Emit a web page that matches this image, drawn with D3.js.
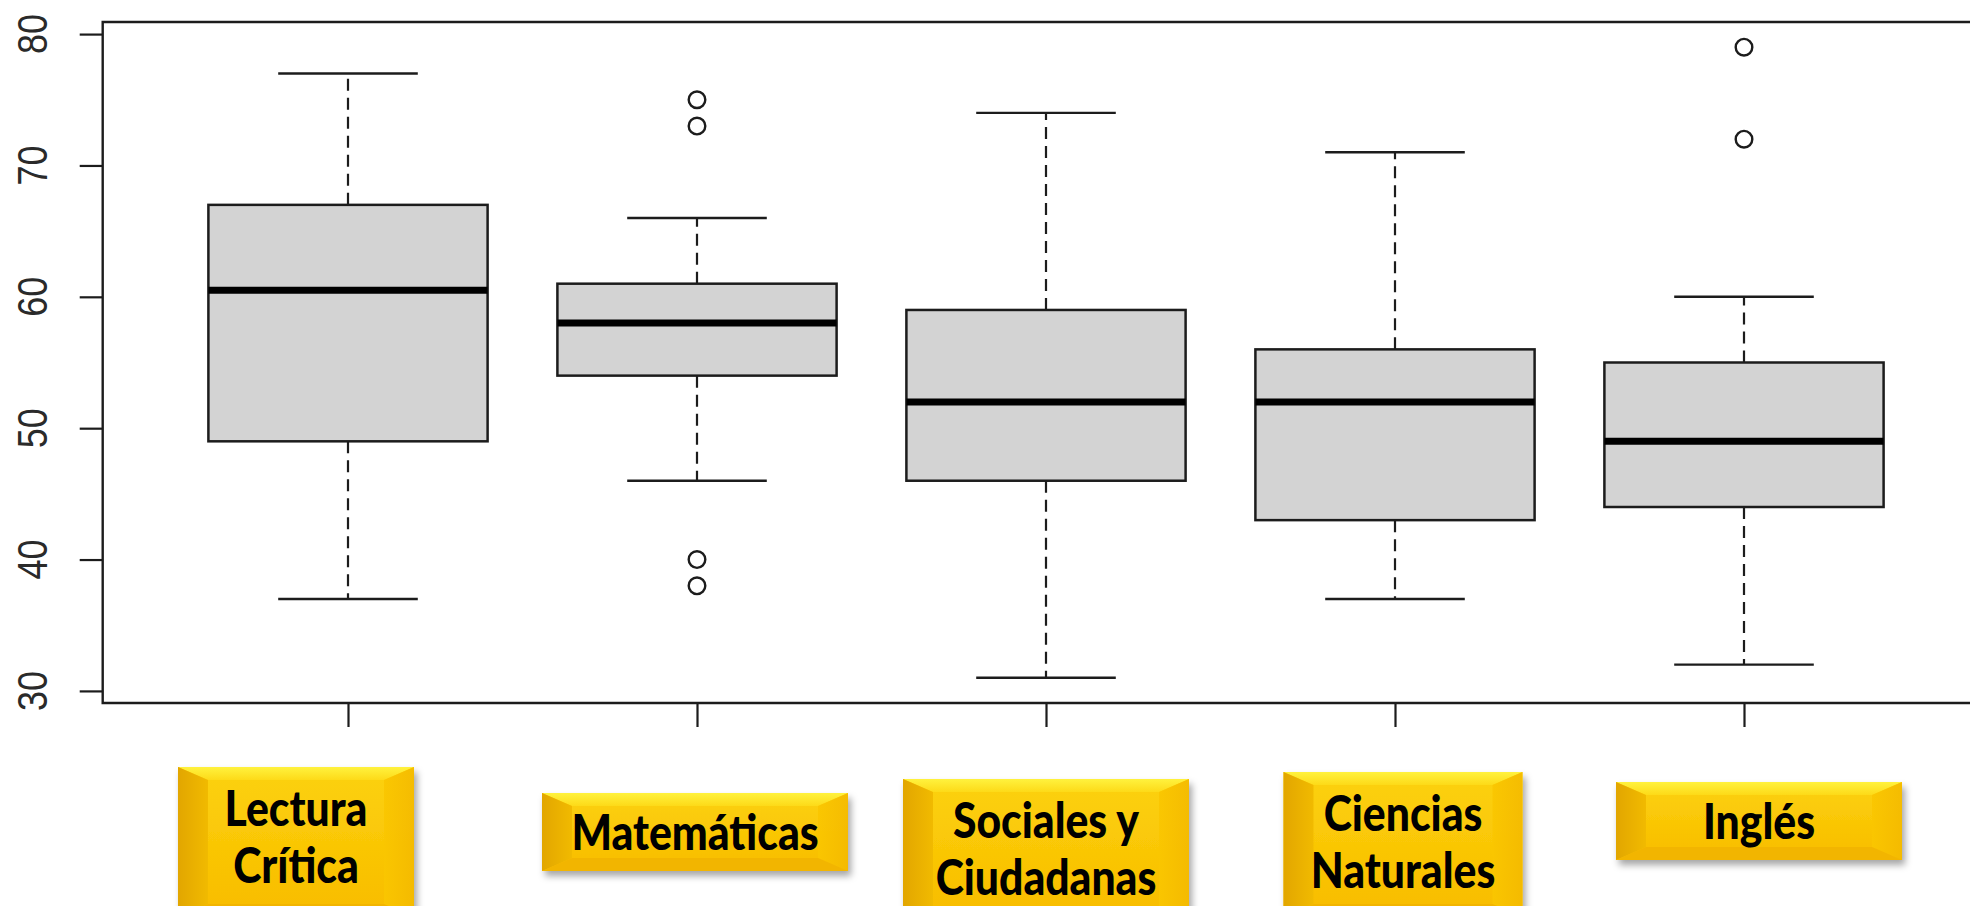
<!DOCTYPE html>
<html>
<head>
<meta charset="utf-8">
<script src="https://cdn.jsdelivr.net/npm/d3@7/dist/d3.min.js"></script>
<style>
  html, body { margin: 0; padding: 0; background: #ffffff; }
  svg { display: block; }
</style>
</head>
<body>
<svg id="chart" width="1970" height="906"></svg>
<script>
// ---------------- data ----------------
const categories = ["Lectura Crítica", "Matemáticas", "Sociales y Ciudadanas", "Ciencias Naturales", "Inglés"];
const labelLines = [["Lectura", "Crítica"], ["Matemáticas"], ["Sociales y", "Ciudadanas"], ["Ciencias", "Naturales"], ["Inglés"]];
const lowerWhisker = [37, 46, 31, 37, 32];
const q1 = [49, 54, 46, 43, 44];
const median = [60.5, 58, 52, 52, 49];
const q3 = [67, 61, 59, 56, 55];
const upperWhisker = [77, 66, 74, 71, 60];
const outliers = [[], [75, 73, 40, 38], [], [], [79, 72]];
const yTicks = [30, 40, 50, 60, 70, 80];

// ---------------- layout (pixels) ----------------
const W = 1970, H = 906;
const plotLeft = 103.7, plotRight = 1988.3, plotTop = 22, plotBottom = 703;
// label box layout: offset from tick centre, top, width, height
const labelLayout = [
  { dx: -52, top: 767, w: 236, h: 150 },
  { dx: -2,  top: 793, w: 306, h: 78 },
  { dx: 0,   top: 779, w: 286, h: 140 },
  { dx: 8,   top: 772, w: 239, h: 145 },
  { dx: 15,  top: 782, w: 286, h: 78 }
];

const svg = d3.select("#chart");
svg.append("rect").attr("width", W).attr("height", H).attr("fill", "#fff");

const defs = svg.append("defs");
const shadow = defs.append("filter").attr("id", "shadow")
  .attr("x", "-10%").attr("y", "-10%").attr("width", "125%").attr("height", "140%");
shadow.append("feDropShadow").attr("dx", 3).attr("dy", 5).attr("stdDeviation", 3.5)
  .attr("flood-color", "#000").attr("flood-opacity", 0.35);

const gMain = defs.append("linearGradient").attr("id", "gMain").attr("x1", 0).attr("y1", 0).attr("x2", 0).attr("y2", 1);
gMain.append("stop").attr("offset", "0%").attr("stop-color", "#fcd20c");
gMain.append("stop").attr("offset", "100%").attr("stop-color", "#f8bc00");
const gTop = defs.append("linearGradient").attr("id", "gTop").attr("x1", 0).attr("y1", 0).attr("x2", 0).attr("y2", 1);
gTop.append("stop").attr("offset", "0%").attr("stop-color", "#fff23e");
gTop.append("stop").attr("offset", "100%").attr("stop-color", "#fdda18");
const gLeft = defs.append("linearGradient").attr("id", "gLeft").attr("x1", 0).attr("y1", 0).attr("x2", 1).attr("y2", 0);
gLeft.append("stop").attr("offset", "0%").attr("stop-color", "#e2a600");
gLeft.append("stop").attr("offset", "100%").attr("stop-color", "#f1ba00");
const gRight = defs.append("linearGradient").attr("id", "gRight").attr("x1", 0).attr("y1", 0).attr("x2", 1).attr("y2", 0);
gRight.append("stop").attr("offset", "0%").attr("stop-color", "#fac600");
gRight.append("stop").attr("offset", "100%").attr("stop-color", "#f4ba00");

// ---------------- scales ----------------
const x = d3.scaleLinear().domain([0.3, 5.7]).range([plotLeft, plotRight]);
const y = d3.scaleLinear().domain([29.08, 80.92]).range([plotBottom, plotTop]);
const boxHalf = (x(1.4) - x(1));     // boxwex 0.8
const capHalf = (x(1.2) - x(1));     // staple 0.5 of box

const ink = "#1c1c1c";

// ---------------- axes ----------------
const yAxisG = svg.append("g").attr("transform", `translate(${plotLeft - 1},0)`)
  .call(d3.axisLeft(y).tickValues(yTicks).tickSize(23).tickFormat(""));
yAxisG.select(".domain").remove();
yAxisG.selectAll(".tick line").attr("stroke", ink).attr("stroke-width", 2.2);

svg.append("g").selectAll("text").data(yTicks).join("text")
  .attr("transform", d => `translate(47,${y(d)}) rotate(-90) scale(1,1.2)`)
  .attr("text-anchor", "middle")
  .attr("font-family", "Liberation Sans, Arial, sans-serif")
  .attr("font-size", 36)
  .attr("fill", "#2a2a2a")
  .text(d => d);

const xAxisG = svg.append("g").attr("transform", `translate(0,${plotBottom})`)
  .call(d3.axisBottom(x).tickValues(d3.range(1, categories.length + 1)).tickSize(24).tickFormat(""));
xAxisG.select(".domain").remove();
xAxisG.selectAll(".tick line").attr("stroke", ink).attr("stroke-width", 2.2);

// plot frame (left, top, bottom; right side lies beyond the page)
svg.append("path")
  .attr("d", `M${plotRight},${plotTop} L${plotLeft - 1},${plotTop} L${plotLeft - 1},${plotBottom} L${plotRight},${plotBottom}`)
  .attr("fill", "none").attr("stroke", ink).attr("stroke-width", 2.4);

// ---------------- boxes ----------------
const data = categories.map((c, i) => ({
  i, cx: x(i + 1), lw: lowerWhisker[i], q1: q1[i], med: median[i], q3: q3[i], uw: upperWhisker[i], out: outliers[i]
}));

const g = svg.append("g");
const box = g.selectAll("g.box").data(data).join("g").attr("class", "box");

// whiskers (dashed)
box.append("line").attr("x1", d => d.cx).attr("x2", d => d.cx)
  .attr("y1", d => y(d.q3)).attr("y2", d => y(d.uw))
  .attr("stroke", ink).attr("stroke-width", 2.2).attr("stroke-dasharray", "12,7");
box.append("line").attr("x1", d => d.cx).attr("x2", d => d.cx)
  .attr("y1", d => y(d.q1)).attr("y2", d => y(d.lw))
  .attr("stroke", ink).attr("stroke-width", 2.2).attr("stroke-dasharray", "12,7");
// caps
box.append("line").attr("x1", d => d.cx - capHalf).attr("x2", d => d.cx + capHalf)
  .attr("y1", d => y(d.uw)).attr("y2", d => y(d.uw))
  .attr("stroke", ink).attr("stroke-width", 2.4);
box.append("line").attr("x1", d => d.cx - capHalf).attr("x2", d => d.cx + capHalf)
  .attr("y1", d => y(d.lw)).attr("y2", d => y(d.lw))
  .attr("stroke", ink).attr("stroke-width", 2.4);
// box
box.append("rect").attr("x", d => d.cx - boxHalf).attr("width", boxHalf * 2)
  .attr("y", d => y(d.q3)).attr("height", d => y(d.q1) - y(d.q3))
  .attr("fill", "#d3d3d3").attr("stroke", ink).attr("stroke-width", 2.5);
// median
box.append("line").attr("x1", d => d.cx - boxHalf).attr("x2", d => d.cx + boxHalf)
  .attr("y1", d => y(d.med)).attr("y2", d => y(d.med))
  .attr("stroke", "#000").attr("stroke-width", 7);
// outliers
box.selectAll("circle").data(d => d.out.map(v => ({ cx: d.cx, v }))).join("circle")
  .attr("cx", d => d.cx).attr("cy", d => y(d.v)).attr("r", 8.3)
  .attr("fill", "none").attr("stroke", ink).attr("stroke-width", 2.4);

// ---------------- category label boxes ----------------
const lab = svg.append("g").selectAll("g.lab").data(data).join("g").attr("class", "lab");
lab.each(function (d) {
  const L = labelLayout[d.i];
  const x0 = d.cx + L.dx - L.w / 2, x1 = x0 + L.w, y0 = L.top, y1 = L.top + L.h;
  const bx = 30, by = 13;
  const sel = d3.select(this);
  const grp = sel.append("g").attr("filter", "url(#shadow)");
  grp.append("rect").attr("x", x0).attr("y", y0).attr("width", L.w).attr("height", L.h).attr("fill", "url(#gMain)");
  const poly = pts => pts.map(p => p.join(",")).join(" ");
  sel.append("polygon").attr("points", poly([[x0, y0], [x1, y0], [x1 - bx, y0 + by], [x0 + bx, y0 + by]])).attr("fill", "url(#gTop)");
  sel.append("polygon").attr("points", poly([[x0, y0], [x0 + bx, y0 + by], [x0 + bx, y1 - by], [x0, y1]])).attr("fill", "url(#gLeft)");
  sel.append("polygon").attr("points", poly([[x1, y0], [x1 - bx, y0 + by], [x1 - bx, y1 - by], [x1, y1]])).attr("fill", "url(#gRight)").attr("opacity", 0.9);
  sel.append("polygon").attr("points", poly([[x0, y1], [x0 + bx, y1 - by], [x1 - bx, y1 - by], [x1, y1]])).attr("fill", "#f2b500");

  const lines = labelLines[d.i];
  const lh = 57;
  const tx = d.cx + L.dx;
  lines.forEach((ln, k) => {
    const cy = lines.length === 1 ? (y0 + y1) / 2 : L.top + 41 + k * lh;
    sel.append("text")
      .attr("transform", `translate(${tx},${cy}) scale(0.97,1.12)`)
      .attr("text-anchor", "middle")
      .attr("dy", "0.36em")
      .attr("font-family", "Lato, Carlito, Calibri, sans-serif")
      .attr("font-weight", 900)
      .attr("font-size", 44)
      .attr("fill", "#000")
      .text(ln);
  });
});
</script>
</body>
</html>
